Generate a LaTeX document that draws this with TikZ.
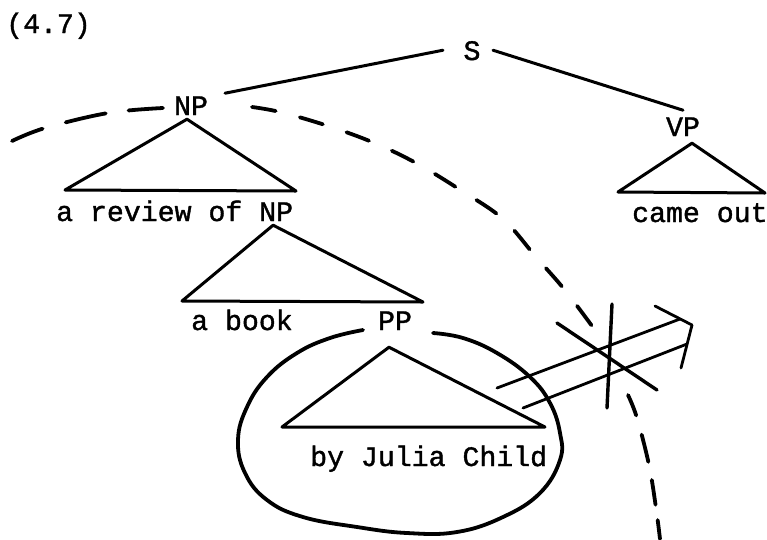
\documentclass[tikz,border=0pt]{standalone}
\usepackage{fontspec}
\newfontfamily\typew[RawFeature={embolden=1.3}]{Liberation Mono}
\begin{document}
\begin{tikzpicture}[x=1pt,y=-1pt,line cap=round,line join=round,
  lbl/.style={inner sep=0pt,font=\typew\fontsize{28.2}{30}\selectfont,anchor=base},
  edge/.style={line width=3pt},
  roof/.style={line width=3pt},
  dsh/.style={line width=3.8pt},
  loop/.style={line width=3.8pt},
  arr/.style={line width=2.8pt},
  cross/.style={line width=3.4pt}]
\useasboundingbox (0,0) rectangle (767,539);
% labels
\node[lbl,anchor=base west] (num) at (6,33) {(4.7)};
\node[lbl] (s) at (472,60) {S};
\node[lbl] (np1) at (191,115) {NP};
\node[lbl] (vp) at (683,136) {VP};
\node[lbl,anchor=base west] (rev) at (56,221) {a review of};
\node[lbl,anchor=base west] (np2) at (259,221) {NP};
\node[lbl,anchor=base west] (came) at (632,222) {came out};
\node[lbl,anchor=base west] (book) at (191,330) {a book};
\node[lbl] (pp) at (395,330) {PP};
\node[lbl,anchor=base west] (jc) at (310,466) {by Julia Child};
% tree edges
\draw[edge] ([shift={(34,-12.5)}]np1.center) -- ([shift={(-29,-0.5)}]s.center);
\draw[edge] ([shift={(21,-0.5)}]s.center) -- ([shift={(0,-16.5)}]vp.center);
% roofs
\draw[roof] ([shift={(-4,4)}]np1.south) -- (65,190) -- (296,191) -- cycle;
\draw[roof] ([shift={(-3,4)}]np2.south) -- (182,301) -- (423,302) -- cycle;
\draw[roof] ([shift={(-6,17)}]pp.south) -- (282,427) -- (545,427) -- cycle;
\draw[roof] ([shift={(9,7)}]vp.south) -- (618,192) -- (765,193) -- cycle;
% loop round the PP
\draw[loop] plot[smooth,tension=0.7] coordinates {(363,330) (330,338) (297,353) (267,377) (247,407) (238,440) (245,473) (267,500) (303,517) (357,527) (407,533) (457,532) (503,517) (540,493) (560,460) (560,433) (550,403) (530,377) (497,353) (463,338) (433,333)};
% dashed boundary
\draw[dsh,dash pattern=on 33pt off 24pt on 41pt off 23pt on 40pt] plot[smooth,tension=0.6] coordinates {(12,141) (45,128) (108,113) (163,108)};
\draw[dsh,dash pattern=on 24pt off 25pt] plot[smooth,tension=0.6] coordinates {(252,107) (280,112) (325,125) (372,142) (416,163) (462,191) (503,219) (536,257) (564,289) (592,326)};
\draw[dsh,dash pattern=on 22pt off 20pt on 28pt off 18.5pt on 25pt off 15.5pt on 30pt] plot[smooth,tension=0.6] coordinates {(628,395) (637,418) (649,465) (656,508) (660,539)};
% double arrow
\draw[arr] (497,388) -- (680,319);
\draw[arr] (523,408) -- (687,344);
\draw[arr] (655,306) -- (692,325) -- (681,368);
% cross
\draw[cross] (612,304) -- (607,408);
\draw[cross] (557,323) -- (657,390);
\end{tikzpicture}
\end{document}
